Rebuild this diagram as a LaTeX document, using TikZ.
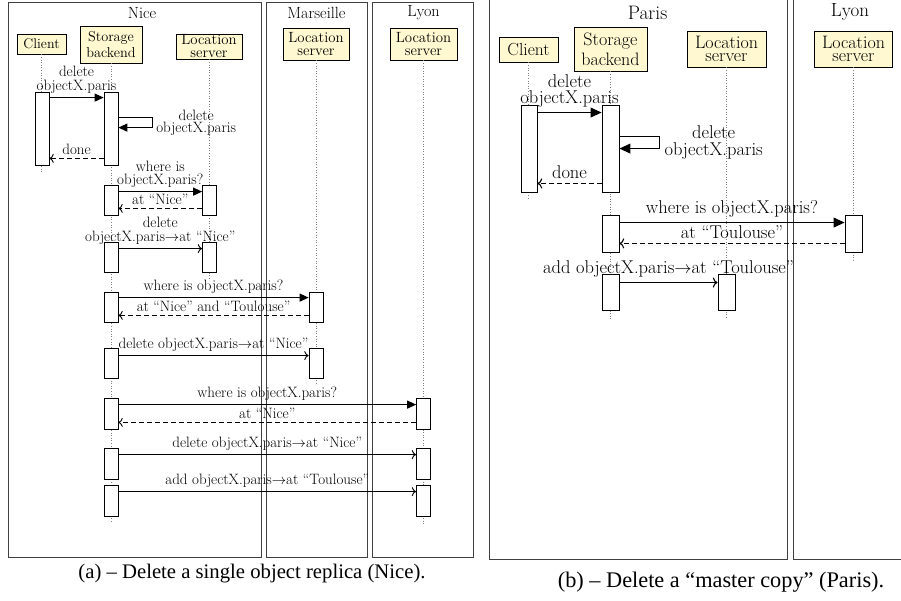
\documentclass[tikz,border=0pt]{standalone}
\usepackage{fontspec}
\usetikzlibrary{arrows.meta}
\newfontfamily\capfont{Liberation Serif}
\definecolor{headyellow}{HTML}{FFF8D0}
\newcommand{\lfont}{\fontsize{15}{14.5}\selectfont}
\newcommand{\rfont}{\fontsize{18.5}{16}\selectfont}

\begin{document}
\begin{tikzpicture}[x=1pt,y=-1pt,
 frame/.style={draw=black!75,line width=0.9pt},
 title/.style={font=\fontsize{16.2}{16}\selectfont},
 head/.style={draw,fill=headyellow,inner sep=0pt,align=center,line width=0.8pt},
 act/.style={draw,fill=white,inner sep=0pt,line width=0.8pt,minimum width=14pt},
 life/.style={dotted,gray,line width=0.6pt},
 call/.style={-{Triangle[length=0pt 10,width=0pt 9]},line width=0.9pt},
 send/.style={-{To[scale=1.2]},line width=0.9pt},
 back/.style={-{To[scale=1.2]},dash pattern=on 5pt off 3pt,line width=0.9pt},
 big/.style={line width=1.1pt},
 lbl/.style={inner sep=3.5pt,font=\lfont,align=center},
 rlbl/.style={inner sep=4.5pt,font=\rfont,align=center}
]
\clip (0,0) rectangle (901,600);

% (a) Nice
\draw[frame] (8,2) rectangle (261,557);
\draw[frame] (266,2) rectangle (367,557);
\draw[frame] (372,2) rectangle (473,557);
\node[title] (nice) at (142,13) {Nice};
\node[title] (marseille) at (316.5,13) {Marseille};
\node[title] (lyona) at (423.5,13) {Lyon};

\node[head,font=\fontsize{14}{14}\selectfont,minimum width=49pt,minimum height=20pt] (cln) at (41.5,44) {Client};
\node[head,font=\fontsize{14.3}{16.7}\selectfont,minimum width=62pt,minimum height=37pt] (sbn) at (111,44.5) {Storage\\backend};
\node[head,font=\fontsize{14.8}{13}\selectfont,minimum width=66pt,minimum height=25pt] (lsn) at (209,46.5) {Location\\server};
\node[head,font=\fontsize{14.8}{13}\selectfont,minimum width=66pt,minimum height=32pt] (lsm) at (316,44) {Location\\server};
\node[head,font=\fontsize{14.8}{13}\selectfont,minimum width=67pt,minimum height=32pt] (lsy) at (423.5,44) {Location\\server};

\draw[life] (cln.south) -- ++(0,119);
\draw[life] (sbn.south) -- ++(0,460);
\draw[life] (lsn.south) -- ++(0,221);
\draw[life] (lsm.south) -- ++(0,323);
\draw[life] (lsy.south) -- ++(0,463);

\node[act,minimum height=73pt] (c1) at (42,128.5) {};
\node[act,minimum height=73pt] (s1) at (111,128.5) {};
\node[act,minimum height=30pt] (s2) at (111,200) {};
\node[act,minimum height=30pt] (n2) at (209.5,200) {};
\node[act,minimum height=30pt] (s3) at (111,257) {};
\node[act,minimum height=30pt] (n3) at (209.5,257) {};
\node[act,minimum height=30pt] (s4) at (111,307) {};
\node[act,minimum height=30pt] (m4) at (316,307) {};
\node[act,minimum height=30pt] (s5) at (111,363) {};
\node[act,minimum height=30pt] (m5) at (316,363) {};
\node[act,minimum height=31pt] (s6) at (111,413.5) {};
\node[act,minimum height=31pt] (y6) at (423.5,413.5) {};
\node[act,minimum height=31pt] (s7) at (111,463.5) {};
\node[act,minimum height=31pt] (y7) at (423.5,463.5) {};
\node[act,minimum height=31pt] (s8) at (111,500.5) {};
\node[act,minimum height=31pt] (y8) at (423.5,500.5) {};

\draw[call] ([yshift=-6pt]c1.north east) -- node[lbl,above]{delete\\objectX.paris} ([yshift=-6pt]s1.north west);
\draw[call] ([yshift=-26pt]s1.north east) -- ++(34,0) -- node[lbl,right,font=\fontsize{15}{12.4}\selectfont]{delete\\objectX.paris} ++(0,10) -- ([yshift=-36pt]s1.north east);
\draw[back] ([yshift=7pt]s1.south west) -- node[lbl,above]{done} ([yshift=7pt]c1.south east);
\draw[call] ([yshift=-7pt]s2.north east) -- node[lbl,above,font=\fontsize{15}{13.4}\selectfont]{where is\\objectX.paris?} ([yshift=-7pt]n2.north west);
\draw[back] ([yshift=7pt]n2.south west) -- node[lbl,above]{at ``Nice''} ([yshift=7pt]s2.south east);
\draw[send] ([yshift=-7pt]s3.north east) -- node[lbl,above]{delete\\objectX.paris$\rightarrow$at ``Nice''} ([yshift=-7pt]n3.north west);
\draw[call] ([yshift=-6pt]s4.north east) -- node[lbl,above]{where is objectX.paris?} ([yshift=-6pt]m4.north west);
\draw[back] ([yshift=7pt]m4.south west) -- node[lbl,above]{at ``Nice'' and ``Toulouse''} ([yshift=7pt]s4.south east);
\draw[send] ([yshift=-8pt]s5.north east) -- node[lbl,above]{delete objectX.paris$\rightarrow$at ``Nice''} ([yshift=-8pt]m5.north west);
\draw[call] ([yshift=-7pt]s6.north east) -- node[lbl,above]{where is objectX.paris?} ([yshift=-7pt]y6.north west);
\draw[back] ([yshift=7pt]y6.south west) -- node[lbl,above]{at ``Nice''} ([yshift=7pt]s6.south east);
\draw[send] ([yshift=-7pt]s7.north east) -- node[lbl,above]{delete objectX.paris$\rightarrow$at ``Nice''} ([yshift=-7pt]y7.north west);
\draw[send] ([yshift=-7pt]s8.north east) -- node[lbl,above]{add objectX.paris$\rightarrow$at ``Toulouse''} ([yshift=-7pt]y8.north west);

\node[font=\capfont\fontsize{20.7}{24}\selectfont] (capa) at (252,574) {(a) – Delete a single object replica (Nice).};

% (b) Paris
\draw[frame] (489,-10) rectangle (787,559);
\draw[frame] (793,-10) rectangle (920,559);
\node[title,font=\fontsize{19.5}{18}\selectfont] (paris) at (647.5,13) {Paris};
\node[title,font=\fontsize{19}{18}\selectfont] (lyonb) at (850,12) {Lyon};

\node[head,font=\fontsize{17.5}{16}\selectfont,minimum width=59pt,minimum height=25pt] (clp) at (528.5,49.5) {Client};
\node[head,font=\fontsize{18}{20}\selectfont,minimum width=73pt,minimum height=44pt] (sbp) at (610.5,49) {Storage\\backend};
\node[head,font=\fontsize{18}{13.2}\selectfont,minimum width=79pt,minimum height=36pt] (lsp) at (726.5,49) {Location\\server};
\node[head,font=\fontsize{18}{13.2}\selectfont,minimum width=78pt,minimum height=36pt] (lsl) at (853.5,49) {Location\\server};

\draw[life] (clp.south) -- ++(0,136);
\draw[life] (sbp.south) -- ++(0,248);
\draw[life] (lsp.south) -- ++(0,252);
\draw[life] (lsl.south) -- ++(0,193);

\node[act,line width=0.9pt,minimum width=16pt,minimum height=87pt] (rc1) at (529,148.5) {};
\node[act,line width=0.9pt,minimum width=17pt,minimum height=87pt] (rs1) at (610.5,148.5) {};
\node[act,line width=0.9pt,minimum width=17pt,minimum height=37pt] (rs2) at (610.5,233.5) {};
\node[act,line width=0.9pt,minimum width=17pt,minimum height=37pt] (rl2) at (853.5,233.5) {};
\node[act,line width=0.9pt,minimum width=17pt,minimum height=36pt] (rs3) at (610.5,292) {};
\node[act,line width=0.9pt,minimum width=17pt,minimum height=36pt] (rp3) at (726.5,292) {};

\draw[call,big] ([yshift=-8pt]rc1.north east) -- node[rlbl,above]{delete\\objectX.paris} ([yshift=-8pt]rs1.north west);
\draw[call,big] ([yshift=-32pt]rs1.north east) -- ++(40,0) -- node[rlbl,right,font=\fontsize{18.5}{17}\selectfont]{delete\\objectX.paris} ++(0,12) -- ([yshift=-44pt]rs1.north east);
\draw[back,big] ([yshift=9pt]rs1.south west) -- node[rlbl,above]{done} ([yshift=9pt]rc1.south east);
\draw[call,big] ([yshift=-8pt]rs2.north east) -- node[rlbl,above]{where is objectX.paris?} ([yshift=-8pt]rl2.north west);
\draw[back,big] ([yshift=9pt]rl2.south west) -- node[rlbl,above]{at ``Toulouse''} ([yshift=9pt]rs2.south east);
\draw[send,big] ([yshift=-9pt]rs3.north east) -- node[rlbl,above]{add objectX.paris$\rightarrow$at ``Toulouse''} ([yshift=-9pt]rp3.north west);

\node[font=\capfont\fontsize{22.3}{26}\selectfont] (capb) at (721,582) {(b) – Delete a “master copy” (Paris).};
\end{tikzpicture}
\end{document}
